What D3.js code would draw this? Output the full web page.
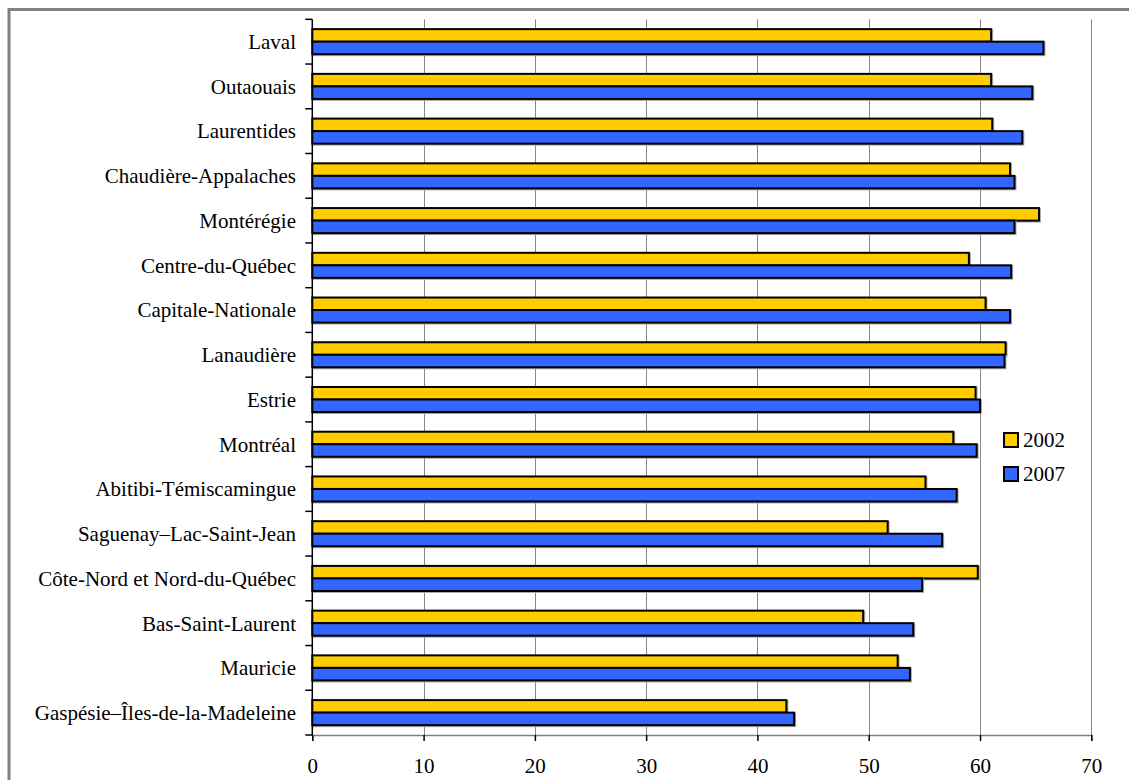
<!DOCTYPE html>
<html><head><meta charset="utf-8">
<script src="https://cdn.jsdelivr.net/npm/d3@7/dist/d3.min.js"></script>
<style>body{margin:0;background:#fff}svg{display:block;font-family:"Liberation Serif","Times New Roman",serif}</style>
</head><body>
<svg id="c" width="1129" height="780"></svg>
<script>
const categories = ["Laval","Outaouais","Laurentides","Chaudière-Appalaches","Montérégie","Centre-du-Québec","Capitale-Nationale","Lanaudière","Estrie","Montréal","Abitibi-Témiscamingue","Saguenay–Lac-Saint-Jean","Côte-Nord et Nord-du-Québec","Bas-Saint-Laurent","Mauricie","Gaspésie–Îles-de-la-Madeleine"];
const values2002 = [61.0,61.0,61.1,62.7,65.3,59.0,60.5,62.3,59.6,57.6,55.1,51.7,59.8,49.5,52.6,42.6];
const values2007 = [65.7,64.7,63.8,63.1,63.1,62.8,62.7,62.2,60.0,59.7,57.9,56.6,54.8,54.0,53.7,43.3];
const seriesNames = ["2002","2007"];
const seriesColors = ["#FFCC00","#3366FF"];
const xTicks = [0,10,20,30,40,50,60,70];

const FS = 21;
const svg = d3.select("#c");
const L = 312.3, R = 1091.3, T = 19.3, B = 735;

// outer frame
svg.append("rect").attr("x",9).attr("y",9.5).attr("width",1140).attr("height",800)
  .attr("fill","none").attr("stroke","#808080").attr("stroke-width",3);

const x = d3.scaleLinear().domain([0,70]).range([L,R]);
const y = d3.scaleBand().domain(categories).range([T,B]).paddingInner(0.44).paddingOuter(0.22);
const ys = d3.scaleBand().domain(seriesNames).range([0,y.bandwidth()]);
const step = y.step();

// gridlines
svg.append("g").selectAll("line").data(xTicks.slice(1)).join("line")
  .attr("x1",d=>Math.round(x(d))+0.5).attr("x2",d=>Math.round(x(d))+0.5)
  .attr("y1",T).attr("y2",B).attr("stroke","#888").attr("stroke-width",1);

// bars
const rows = categories.map((c,i)=>({c, v:[values2002[i],values2007[i]]}));
const g = svg.append("g");
rows.forEach(r=>{
  seriesNames.forEach((s,j)=>{
    const y0 = y(r.c)+ys(s), h = ys.bandwidth();
    g.append("rect").attr("x",x(0)+1).attr("y",y0+1).attr("width",x(r.v[j])-x(0)).attr("height",h)
      .attr("fill","none").attr("stroke","#aaa").attr("stroke-width",2);
    g.append("rect").attr("x",x(0)).attr("y",y0).attr("width",x(r.v[j])-x(0)).attr("height",h)
      .attr("fill",seriesColors[j]).attr("stroke","#000").attr("stroke-width",2);
  });
});

// bottom axis
const xa = svg.append("g").attr("transform",`translate(0,${B})`)
  .call(d3.axisBottom(x).tickValues(xTicks).tickSize(6).tickPadding(17).tickFormat(d3.format("d")));
xa.select(".domain").attr("stroke","#808080").attr("stroke-width",1.5);
xa.selectAll(".tick line").attr("stroke","#000").attr("stroke-width",1.5);
xa.selectAll(".tick text").attr("font-size",FS).attr("fill","#000").attr("font-family","Liberation Serif");

// left axis
svg.append("line").attr("x1",L).attr("x2",L).attr("y1",T).attr("y2",B).attr("stroke","#000").attr("stroke-width",1.5);
svg.append("g").selectAll("line").data(d3.range(categories.length+1)).join("line")
  .attr("x1",L-7).attr("x2",L).attr("y1",i=>T+i*step).attr("y2",i=>T+i*step)
  .attr("stroke","#000").attr("stroke-width",1.5);
svg.append("g").selectAll("text").data(categories).join("text")
  .attr("x",296).attr("y",d=>y(d)+y.bandwidth()/2).attr("dy","0.35em")
  .attr("text-anchor","end").attr("font-size",FS).attr("fill","#000").text(d=>d);

// legend
const lg = svg.append("g");
seriesNames.forEach((s,j)=>{
  lg.append("rect").attr("x",1004).attr("y",433+j*34).attr("width",14).attr("height",14)
    .attr("fill",seriesColors[j]).attr("stroke","#000").attr("stroke-width",2);
  lg.append("text").attr("x",1023).attr("y",447+j*34).attr("font-size",FS).attr("fill","#000").text(s);
});
</script>
</body></html>
